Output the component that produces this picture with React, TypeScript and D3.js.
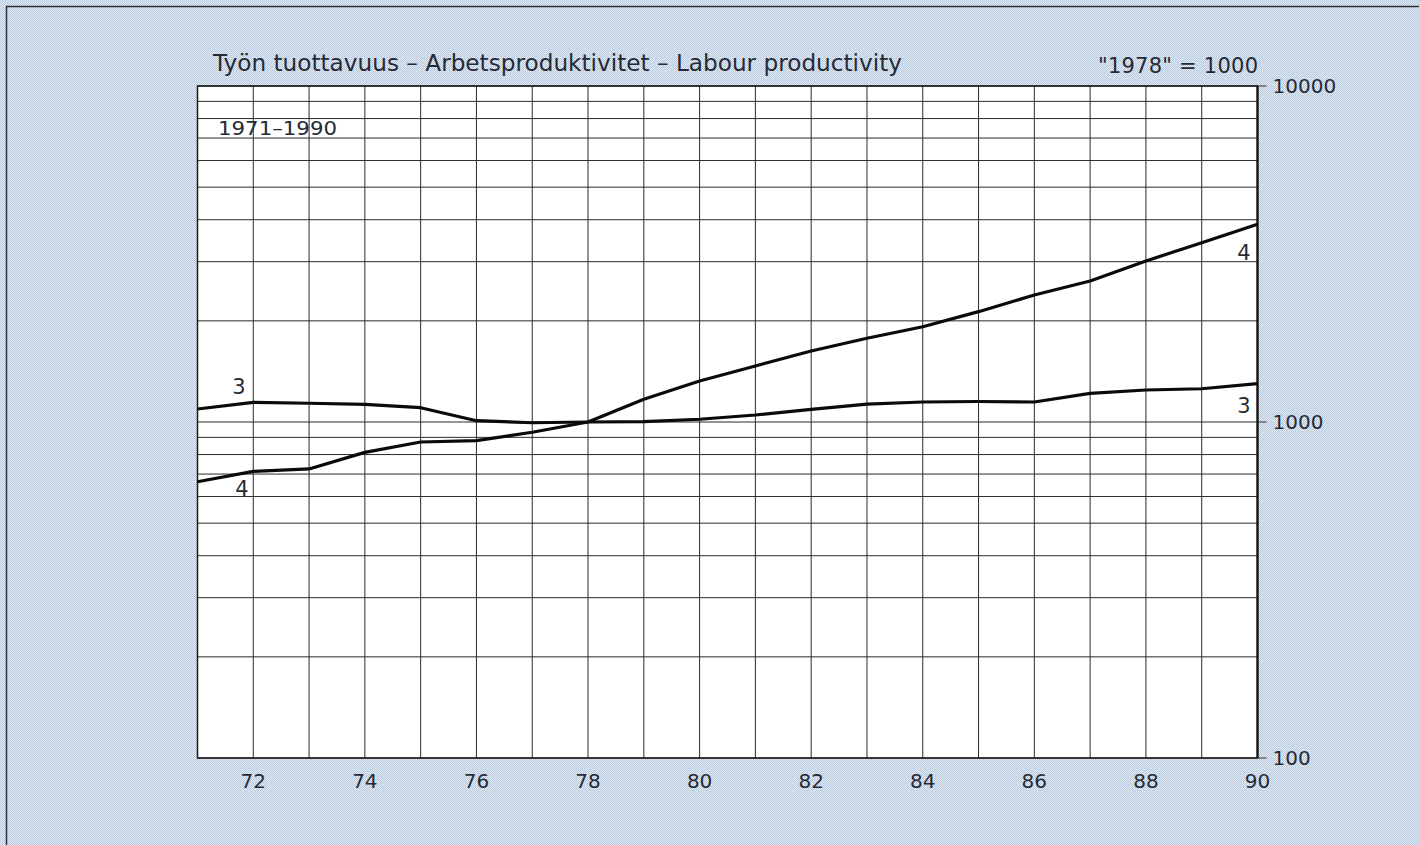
import { useRef, useEffect } from 'react';
import * as d3 from 'd3';

const years = [71, 72, 73, 74, 75, 76, 77, 78, 79, 80, 81, 82, 83, 84, 85, 86, 87, 88, 89, 90];
const series3 = [1093, 1144, 1137, 1129, 1103, 1009, 995, 1000, 1002, 1019, 1049, 1091, 1131, 1147, 1151, 1147, 1217, 1245, 1256, 1300];
const series4 = [664, 713, 725, 812, 872, 880, 932, 1000, 1168, 1324, 1468, 1627, 1775, 1921, 2130, 2388, 2628, 3015, 3417, 3875];
const xTickLabels = [72, 74, 76, 78, 80, 82, 84, 86, 88, 90];
const yTickLabels = [100, 1000, 10000];

const title = 'Työn tuottavuus – Arbetsproduktivitet – Labour productivity';
const baseNote = '"1978" = 1000';
const periodNote = '1971–1990';

export default function App() {
    const svgRef = useRef<SVGSVGElement>(null);
    const width = 1419;
    const height = 845;

    useEffect(() => {
        document.body.style.margin = '0';
        if (!svgRef.current) return;
        const svg = d3.select(svgRef.current);
        svg.selectAll('*').remove();

        const font = '"DejaVu Sans", sans-serif';
        const ink = '#262a36';

        const x = d3.scaleLinear().domain([71, 90]).range([197.5, 1257.5]);
        const y = d3.scaleLog().domain([100, 10000]).range([758, 86]);

        // dotted blue background
        const defs = svg.append('defs');
        const pat = defs.append('pattern')
            .attr('id', 'dots')
            .attr('width', 2)
            .attr('height', 2)
            .attr('patternUnits', 'userSpaceOnUse');
        pat.append('rect').attr('width', 2).attr('height', 2).attr('fill', '#e3ebf5');
        pat.append('rect').attr('width', 1).attr('height', 1).attr('fill', '#b6c8de');
        pat.append('rect').attr('x', 1).attr('y', 1).attr('width', 1).attr('height', 1).attr('fill', '#b6c8de');

        svg.append('rect').attr('width', width).attr('height', height).attr('fill', 'url(#dots)');

        // outer frame (top + left visible)
        svg.append('path')
            .attr('d', `M6.5,${height}V6.5H${width}`)
            .attr('fill', 'none')
            .attr('stroke', '#2a2f3a')
            .attr('stroke-width', 1.5);

        const [x0, x1] = x.range();
        const [yb, yt] = y.range();

        // plot area
        svg.append('rect')
            .attr('x', x0)
            .attr('y', yt)
            .attr('width', x1 - x0)
            .attr('height', yb - yt)
            .attr('fill', '#fff');

        // log grid: 1..9 per decade
        const gridVals: number[] = [];
        [100, 1000].forEach(d => {
            for (let m = 1; m <= 9; m++) gridVals.push(m * d);
        });
        gridVals.push(10000);

        const grid = svg.append('g').attr('stroke', '#2b2b2b').attr('stroke-width', 1);
        gridVals.forEach(v => {
            grid.append('line')
                .attr('x1', x0).attr('x2', x1)
                .attr('y1', y(v)).attr('y2', y(v));
        });
        years.forEach(yr => {
            grid.append('line')
                .attr('x1', x(yr)).attr('x2', x(yr))
                .attr('y1', yt).attr('y2', yb);
        });

        // frame of plot
        svg.append('rect')
            .attr('x', x0)
            .attr('y', yt)
            .attr('width', x1 - x0)
            .attr('height', yb - yt)
            .attr('fill', 'none')
            .attr('stroke', '#1a1a1a')
            .attr('stroke-width', 1.5);
        svg.append('line')
            .attr('x1', x1).attr('x2', x1)
            .attr('y1', yt).attr('y2', yb)
            .attr('stroke', '#111')
            .attr('stroke-width', 2.2);

        // right axis ticks + labels
        yTickLabels.forEach(v => {
            svg.append('line')
                .attr('x1', x1).attr('x2', x1 + 9)
                .attr('y1', y(v)).attr('y2', y(v))
                .attr('stroke', '#333')
                .attr('stroke-width', 1);
            svg.append('text')
                .attr('x', x1 + 15)
                .attr('y', y(v))
                .attr('dy', '0.36em')
                .attr('font-family', font)
                .attr('font-size', 20)
                .attr('fill', ink)
                .text(v);
        });

        // x labels
        xTickLabels.forEach(v => {
            svg.append('text')
                .attr('x', x(v))
                .attr('y', 788)
                .attr('text-anchor', 'middle')
                .attr('font-family', font)
                .attr('font-size', 20)
                .attr('fill', ink)
                .text(v);
        });

        // lines
        const line = d3.line<number>()
            .x((_, i) => x(years[i]))
            .y(d => y(d));
        [series3, series4].forEach(s => {
            svg.append('path')
                .attr('d', line(s))
                .attr('fill', 'none')
                .attr('stroke', '#0a0a0a')
                .attr('stroke-width', 3.2)
                .attr('stroke-linejoin', 'round');
        });

        // series labels
        const lab = (tx: number, ty: number, t: string) =>
            svg.append('text')
                .attr('x', tx)
                .attr('y', ty)
                .attr('dy', '0.36em')
                .attr('text-anchor', 'middle')
                .attr('font-family', font)
                .attr('font-size', 21)
                .attr('fill', ink)
                .text(t);
        lab(239, 386, '3');
        lab(242, 488, '4');
        lab(1244, 252, '4');
        lab(1244, 405, '3');

        // titles
        svg.append('text')
            .attr('x', 213)
            .attr('y', 71)
            .attr('font-family', font)
            .attr('font-size', 23)
            .attr('fill', ink)
            .attr('textLength', 689)
            .attr('lengthAdjust', 'spacingAndGlyphs')
            .text(title);
        svg.append('text')
            .attr('x', 1258)
            .attr('y', 73)
            .attr('text-anchor', 'end')
            .attr('font-family', font)
            .attr('font-size', 21)
            .attr('fill', ink)
            .attr('textLength', 160)
            .attr('lengthAdjust', 'spacing')
            .text(baseNote);
        svg.append('text')
            .attr('x', 218)
            .attr('y', 135)
            .attr('font-family', font)
            .attr('font-size', 20)
            .attr('fill', ink)
            .attr('textLength', 119)
            .attr('lengthAdjust', 'spacingAndGlyphs')
            .text(periodNote);
    }, []);

    return <svg ref={svgRef} width={width} height={height} style={{ display: 'block' }} />;
}
